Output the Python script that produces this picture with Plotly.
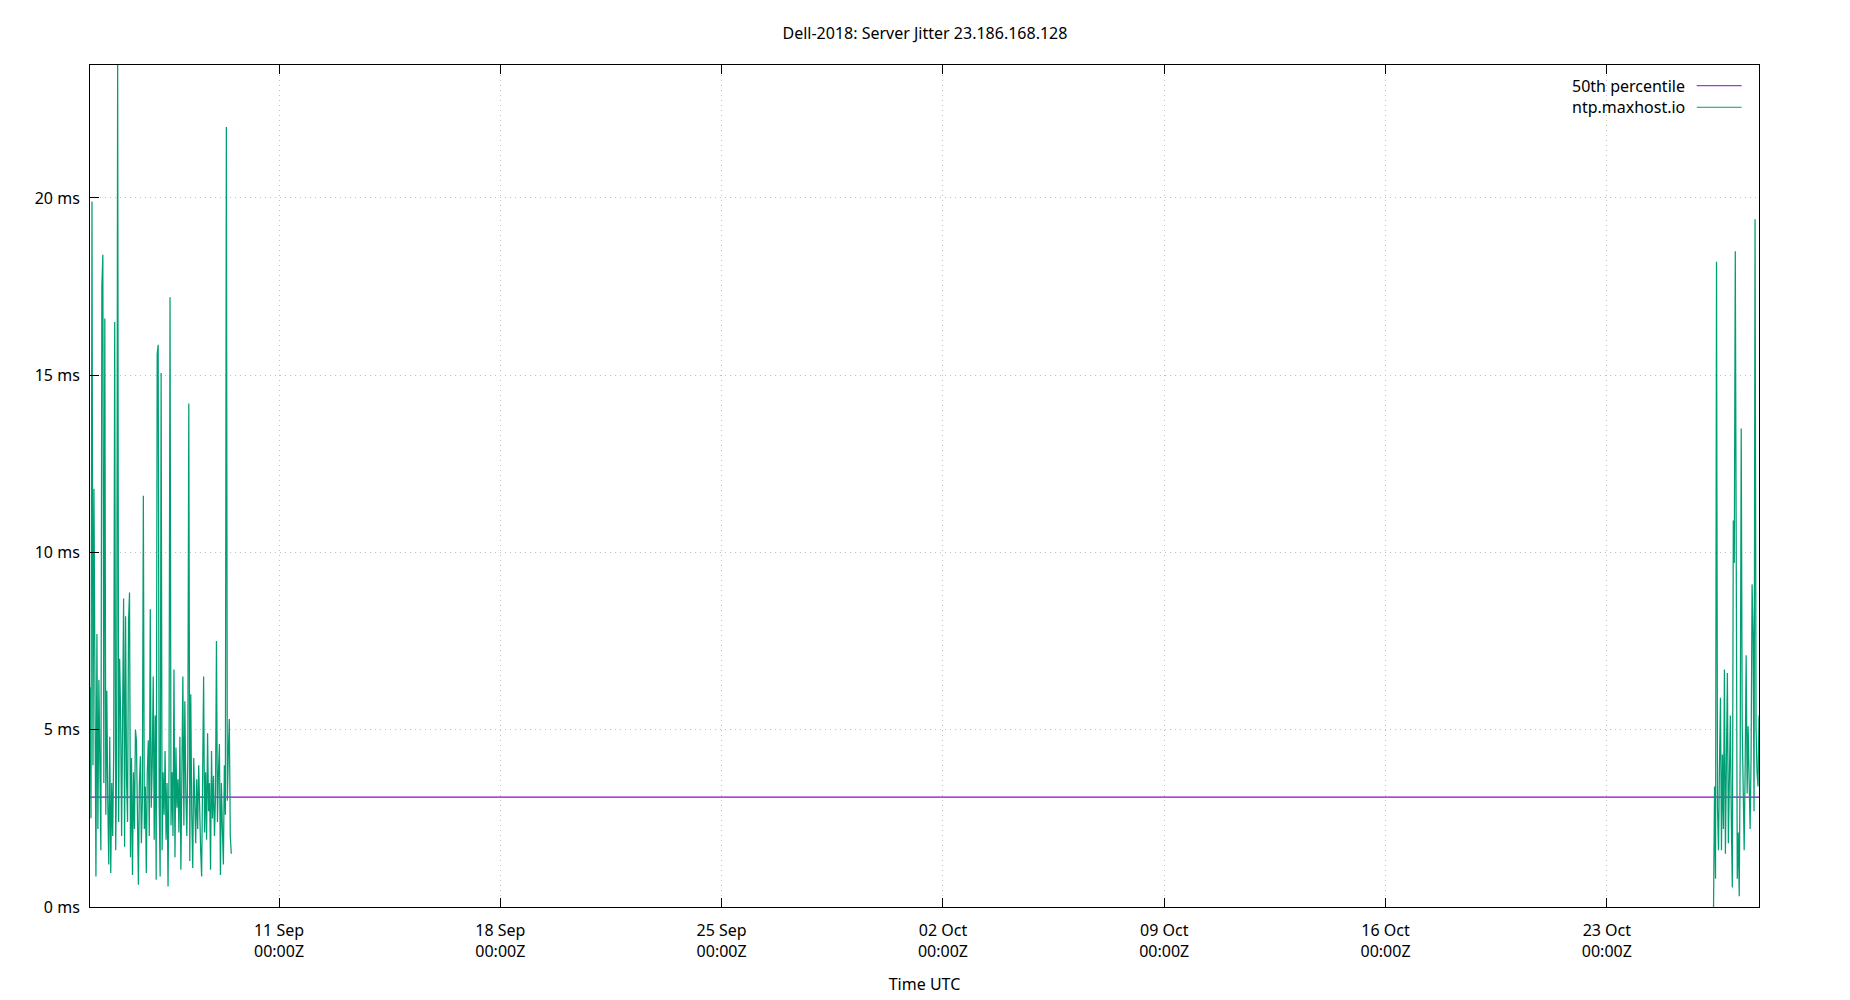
import pandas as pd
import plotly.graph_objects as go

# ---------------- data ----------------
TITLE = "Dell-2018: Server Jitter 23.186.168.128"
SERIES_NAME = "ntp.maxhost.io"
MEDIAN_NAME = "50th percentile"

# first block of samples (45-minute polls)
seg1_start = "2023-09-05 00:30"
seg1_jitter_ms = [
    6.2, 2.5, 19.9, 4.0, 11.8, 3.2, 0.86, 7.7, 2.2, 6.4,
    2.8, 1.6, 17.5, 18.4, 3.5, 16.6, 2.6, 6.1, 3.0, 1.2,
    4.8, 0.96, 3.5, 2.0, 4.5, 16.5, 1.6, 4.2, 23.9, 2.4,
    7.0, 5.4, 2.0, 4.5, 8.7, 1.7, 8.2, 3.6, 2.4, 8.06,
    8.87, 1.4, 4.2, 0.9, 3.8, 2.2, 5.0, 4.7, 2.5, 0.63,
    3.5, 4.25, 1.8, 3.0, 11.6, 2.2, 3.4, 0.96, 3.8, 4.7,
    2.0, 8.4, 2.8, 4.0, 6.5, 1.9, 5.4, 0.77, 15.6, 15.86,
    3.0, 0.86, 15.06, 1.6, 3.8, 2.6, 4.4, 1.9, 3.5, 0.58,
    4.0, 17.2, 2.3, 3.8, 2.0, 6.7, 1.4, 4.5, 2.8, 3.6,
    2.1, 4.8, 1.05, 3.4, 6.5, 2.3, 5.8, 3.2, 2.0, 4.3,
    14.2, 1.3, 6.0, 2.6, 1.1, 4.2, 2.9, 1.8, 3.6, 2.2,
    4.0, 2.5, 1.6, 0.86, 3.3, 6.5, 2.1, 3.8, 1.9, 4.9,
    2.7, 3.5, 1.05, 4.4, 2.5, 3.7, 2.0, 3.1, 7.5, 2.4,
    3.8, 4.6, 0.9, 3.5, 2.2, 1.2, 4.0, 2.6, 22.0, 3.0,
    4.3, 5.3, 2.0, 1.5,
]

# second block of samples
seg2_start = "2023-10-26 09:00"
seg2_jitter_ms = [
    0.0, 3.4, 0.8, 18.2, 2.8, 1.6, 4.0, 5.9, 1.6, 4.3,
    2.2, 6.7, 1.5, 3.8, 6.6, 1.8, 3.2, 5.4, 2.4, 0.55,
    10.9, 9.7, 18.5, 11.9, 0.8, 2.1, 0.3, 4.5, 13.5, 5.1,
    2.8, 1.6, 4.0, 7.1, 3.2, 5.1, 3.6, 2.2, 4.3, 9.1,
    7.7, 2.7, 19.4, 5.1, 3.8, 3.4, 5.4,
]
sample_interval = "45min"

median_ms = 3.1
x_range = ["2023-09-05 00:30", "2023-10-27 19:30"]
y_range = [0, 23.75]
y_ticks = [0, 5, 10, 15, 20]
y_tick_labels = ["0 ms", "5 ms", "10 ms", "15 ms", "20 ms"]
x_tick0 = "2023-09-11"
x_dtick_days = 7

# ---------------- build ----------------
t1 = pd.date_range(seg1_start, periods=len(seg1_jitter_ms), freq=sample_interval)
t2 = pd.date_range(seg2_start, periods=len(seg2_jitter_ms), freq=sample_interval)

x_all = list(t1) + [None] + list(t2)
y_all = seg1_jitter_ms + [None] + seg2_jitter_ms

GREEN = "#009e73"
PURPLE = "#9400d3"
FONT = "Noto Sans"
GRID = "#c0c0c0"

fig = go.Figure()
fig.add_trace(go.Scatter(
    x=[pd.Timestamp(x_range[0]), pd.Timestamp(x_range[1])],
    y=[median_ms, median_ms],
    mode="lines", name=MEDIAN_NAME,
    line=dict(color=PURPLE, width=1.1),
    showlegend=False, hoverinfo="skip",
))
fig.add_trace(go.Scatter(
    x=x_all, y=y_all, mode="lines", name=SERIES_NAME,
    line=dict(color=GREEN, width=1.25),
    connectgaps=False, showlegend=False,
))

# legend drawn gnuplot-style: text then sample line
legend_items = [(MEDIAN_NAME, PURPLE, 0.9754), (SERIES_NAME, GREEN, 0.9498)]
for label, color, yp in legend_items:
    fig.add_annotation(
        x=0.9567, y=yp, xref="paper", yref="paper",
        text=label, showarrow=False, xanchor="right", yanchor="middle",
        font=dict(family=FONT, size=16, color="#000000"),
    )
    fig.add_shape(
        type="line", xref="paper", yref="paper",
        x0=0.9627, x1=0.9896, y0=yp, y1=yp,
        line=dict(color=color, width=1),
    )

# page body has an 8px margin, so the figure is sized to fit the window
fig.update_layout(
    width=1842, height=992,
    margin=dict(l=82, r=91, t=57, b=93),
    paper_bgcolor="white", plot_bgcolor="white",
    font=dict(family=FONT, size=16, color="#000000"),
    title=dict(text=TITLE, x=0.4978, xanchor="center", y=0.9748, yanchor="middle",
               font=dict(family=FONT, size=16, color="#000000")),
    showlegend=False,
)

fig.update_xaxes(
    type="date", range=[pd.Timestamp(x_range[0]), pd.Timestamp(x_range[1])],
    tick0=x_tick0, dtick=x_dtick_days * 86400000,
    tickformat="%d %b<br>%H:%MZ",
    ticks="inside", ticklen=9, tickcolor="#000000", tickwidth=1,
    ticklabelstandoff=9,
    showline=True, linecolor="#000000", linewidth=1, mirror="ticks",
    showgrid=True, gridcolor=GRID, griddash="1px,4px", gridwidth=1,
    zeroline=False, automargin=False,
    title=dict(text="Time UTC", standoff=17, font=dict(family=FONT, size=16)),
)
fig.update_yaxes(
    range=y_range, tickmode="array", tickvals=y_ticks, ticktext=y_tick_labels,
    ticks="inside", ticklen=9, tickcolor="#000000", tickwidth=1,
    ticklabelstandoff=6,
    showline=True, linecolor="#000000", linewidth=1, mirror=True,
    showgrid=True, gridcolor=GRID, griddash="1px,4px", gridwidth=1,
    zeroline=False, automargin=False,
)

fig.write_html("out.html")
